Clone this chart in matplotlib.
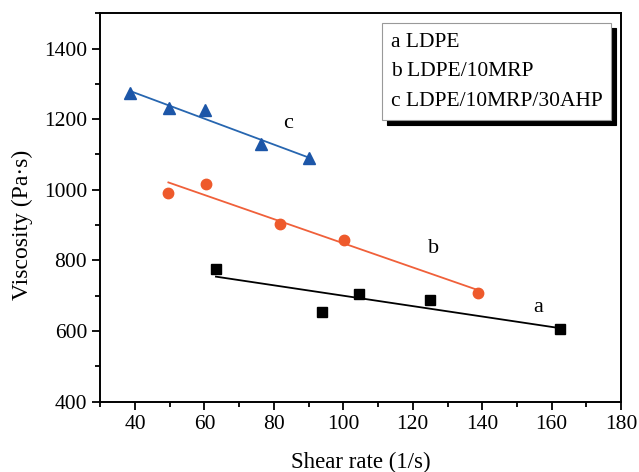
import numpy as np
import matplotlib
matplotlib.use("Agg")
import matplotlib.pyplot as plt
from matplotlib.lines import Line2D
from matplotlib.ticker import MultipleLocator

plt.rcParams['font.family'] = ['Liberation Serif', 'DejaVu Serif']

# shear rate (1/s) vs viscosity (Pa.s)
rate_a = [63.3, 93.8, 104.5, 125.0, 162.4]
visc_a = [776, 655, 704, 688, 605]
rate_b = [49.6, 60.5, 81.8, 100.3, 138.7]
visc_b = [992, 1017, 903, 858, 709]
rate_c = [38.6, 49.9, 60.2, 76.2, 90.2]
visc_c = [1274, 1231, 1226, 1129, 1091]

legend_labels = ['a LDPE', 'b LDPE/10MRP', 'c LDPE/10MRP/30AHP']

series = [
    (rate_a, visc_a, 's', 'black', 'black', 6.5, 'a', (156, 668)),
    (rate_b, visc_b, 'o', '#ee5a2c', '#f0603a', 7.5, 'b', (126, 835)),
    (rate_c, visc_c, '^', '#1c56a8', '#2766b0', 8.5, 'c', (84, 1187)),
]

fig = plt.figure(figsize=(6.39, 4.72), dpi=100)
ax = fig.add_axes([0.157, 0.149, 0.815, 0.823])

for x, y, mk, mcol, lcol, ms, tag, pos in series:
    x = np.array(x)
    y = np.array(y)
    ax.plot(x, y, linestyle='none', marker=mk, color=mcol, markersize=ms, zorder=3)
    # linear fit over the measured range
    k, b = np.polyfit(x, y, 1)
    xf = np.array([x.min(), x.max()])
    ax.plot(xf, k * xf + b, color=lcol, linewidth=1.3, zorder=2)
    ax.text(pos[0], pos[1], tag, fontsize=16, ha='center', va='center')

ax.set_xlim(30, 180)
ax.set_ylim(400, 1500)
ax.xaxis.set_minor_locator(MultipleLocator(10))
ax.yaxis.set_minor_locator(MultipleLocator(100))
ax.set_xticks(np.arange(40, 181, 20))
ax.set_yticks(np.arange(400, 1401, 200))

ax.tick_params(which='both', direction='out', width=1.3, labelsize=15.5,
               top=False, right=False)
ax.tick_params(which='major', length=6)
ax.tick_params(which='minor', length=3.5)
for sp in ax.spines.values():
    sp.set_linewidth(1.4)

ax.set_xlabel('Shear rate (1/s)', fontsize=16.5)
ax.set_ylabel('Viscosity (Pa·s)', fontsize=17)
ax.xaxis.set_label_coords(0.5, -0.13)
ax.yaxis.set_label_coords(-0.13, 0.455)

handles = [Line2D([], [], linestyle='none') for _ in legend_labels]
leg = ax.legend(handles, legend_labels, loc='upper right', fontsize=15.5,
                handlelength=0, handletextpad=0, labelspacing=0.45,
                borderpad=0.4, borderaxespad=0.45, fancybox=False,
                shadow={'color': 'black', 'alpha': 1, 'ox': 3.5, 'oy': -3.5})
leg.get_frame().set_edgecolor('#999999')
leg.get_frame().set_linewidth(0.8)

fig.savefig('out.png', dpi=100)
